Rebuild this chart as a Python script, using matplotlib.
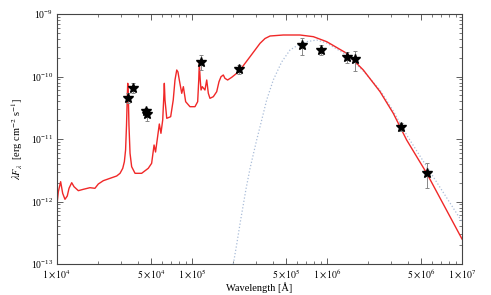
import numpy as np
import matplotlib
matplotlib.use('Agg')
import matplotlib.pyplot as plt
from matplotlib.ticker import FixedLocator, FixedFormatter, LogLocator, NullFormatter

plt.rcParams['font.family'] = ['Liberation Serif', 'DejaVu Serif']
plt.rcParams['mathtext.fontset'] = 'stix'

# model SED (log10 wavelength [A], log10 lambda F_lambda)
log_wave_sed = [4.002, 4.010, 4.027, 4.042, 4.059, 4.076, 4.089, 4.109, 4.126, 4.158,
                4.195, 4.244, 4.281, 4.306, 4.343, 4.393, 4.442, 4.467, 4.487, 4.499,
                4.508, 4.515, 4.521, 4.524, 4.528, 4.533, 4.541, 4.553, 4.578, 4.627,
                4.676, 4.701, 4.719, 4.730, 4.741, 4.758, 4.770, 4.783, 4.790, 4.795,
                4.800, 4.813, 4.842, 4.861, 4.874, 4.887, 4.896, 4.906, 4.924, 4.936,
                4.953, 4.985, 5.022, 5.042, 5.050, 5.054, 5.061, 5.067, 5.076, 5.096,
                5.109, 5.121, 5.133, 5.158, 5.183, 5.200, 5.215, 5.232, 5.244, 5.264,
                5.294, 5.331, 5.356, 5.393, 5.430, 5.467, 5.504, 5.541, 5.578, 5.676,
                5.800, 5.899, 5.998, 6.146, 6.269, 6.393, 6.491, 6.590, 6.739, 7.000]
log_flux_sed = [-12.003, -11.843, -11.683, -11.869, -11.965, -11.912, -11.789, -11.699, -11.763, -11.827,
                -11.805, -11.779, -11.789, -11.720, -11.667, -11.629, -11.592, -11.549, -11.469, -11.363,
                -11.176, -10.776, -10.296, -10.109, -10.296, -10.776, -11.229, -11.443, -11.549, -11.549,
                -11.469, -11.389, -11.096, -11.208, -11.032, -10.760, -10.909, -10.696, -10.376, -10.109,
                -10.376, -10.669, -10.643, -10.376, -10.056, -9.896, -9.928, -10.056, -10.269, -10.163,
                -10.403, -10.483, -10.483, -10.403, -10.056, -9.789, -10.056, -10.216, -10.163, -10.216,
                -10.056, -10.269, -10.349, -10.323, -10.243, -10.083, -10.003, -9.976, -10.029, -10.056,
                -10.013, -9.949, -9.896, -9.789, -9.683, -9.576, -9.469, -9.392, -9.352, -9.336,
                -9.336, -9.363, -9.443, -9.629, -9.896, -10.243, -10.589, -11.016, -11.549, -12.600]

# cold dust component (dotted)
log_wave_bb = [5.306, 5.330, 5.360, 5.400, 5.430, 5.479, 5.504, 5.553, 5.602, 5.664,
               5.726, 5.787, 5.850, 5.924, 5.998, 6.146, 6.269, 6.393, 6.491, 6.590,
               6.739, 7.000]
log_flux_bb = [-13.000, -12.700, -12.300, -11.800, -11.469, -11.016, -10.803, -10.376, -10.056, -9.768,
               -9.576, -9.496, -9.443, -9.416, -9.464, -9.656, -9.912, -10.216, -10.552, -10.936,
               -11.443, -12.323]

# photometry
obs_wave = [3.357e4, 3.656e4, 4.54e4, 4.65e4, 1.159e5, 2.22e5, 6.50e5, 8.97e5, 1.40e6, 1.61e6, 3.52e6, 5.53e6]
obs_flux = [4.58e-11, 6.47e-11, 2.81e-11, 2.48e-11, 1.69e-10, 1.30e-10, 3.19e-10, 2.65e-10, 2.03e-10, 1.91e-10, 1.57e-11, 2.89e-12]
obs_lo = [3.72e-11, 5.38e-11, 2.42e-11, 1.96e-11, 1.27e-10, 1.10e-10, 2.21e-10, 2.21e-10, 1.66e-10, 1.24e-10, 1.36e-11, 1.63e-12]
obs_hi = [5.51e-11, 7.78e-11, 3.10e-11, 2.91e-11, 2.21e-10, 1.53e-10, 4.08e-10, 3.19e-10, 2.49e-10, 2.59e-10, 1.82e-11, 4.08e-12]

xticks = [1e4, 5e4, 1e5, 5e5, 1e6, 5e6, 1e7]
xticklabels = [r'$1\times10^{4}$', r'$5\times10^{4}$', r'$1\times10^{5}$', r'$5\times10^{5}$',
               r'$1\times10^{6}$', r'$5\times10^{6}$', r'$1\times10^{7}$']

fig = plt.figure(figsize=(4.91, 2.95), dpi=100)
ax = fig.add_axes([57/491, 1-264/295, 405/491, 250/295])

ax.plot(10**np.array(log_wave_bb), 10**np.array(log_flux_bb), ls=':', color='#a9bcd8', lw=0.9)
ax.plot(10**np.array(log_wave_sed), 10**np.array(log_flux_sed), color='#f02828', lw=1.0)

f = np.array(obs_flux)
yerr = [f - np.array(obs_lo), np.array(obs_hi) - f]
ax.errorbar(obs_wave, obs_flux, yerr=yerr, fmt='none', ecolor='#888888', elinewidth=0.7, capsize=1.5, capthick=0.7)
ax.plot(obs_wave, obs_flux, ls='none', marker='*', ms=7, color='black', mec='black')

ax.set_xscale('log')
ax.set_yscale('log')
ax.set_xlim(1e4, 1e7)
ax.set_ylim(1e-13, 1e-9)

ax.xaxis.set_major_locator(FixedLocator(xticks))
ax.xaxis.set_major_formatter(FixedFormatter(xticklabels))
minors = [m * 10**e for e in range(4, 7) for m in range(2, 10) if m != 5]
ax.xaxis.set_minor_locator(FixedLocator(minors))
ax.xaxis.set_minor_formatter(NullFormatter())
ax.yaxis.set_major_locator(LogLocator(base=10, numticks=10))
ax.yaxis.set_minor_locator(LogLocator(base=10, subs=range(2, 10), numticks=20))
ax.yaxis.set_minor_formatter(NullFormatter())

ax.tick_params(which='both', direction='in', top=True, right=True, labelsize=7, pad=3, colors='#444444', labelcolor='black')
ax.tick_params(which='major', length=4.5, width=0.6)
ax.tick_params(which='minor', length=2.2, width=0.5)
for s in ax.spines.values():
    s.set_color('#444444')
    s.set_linewidth(0.8)

ax.set_xlabel('Wavelength [Å]', fontsize=7.5, labelpad=1)
ax.set_ylabel(r'$\lambda F_\lambda$  [erg cm$^{-2}$ s$^{-1}$]', fontsize=7.5, labelpad=4)

fig.savefig('out.png', dpi=100)
